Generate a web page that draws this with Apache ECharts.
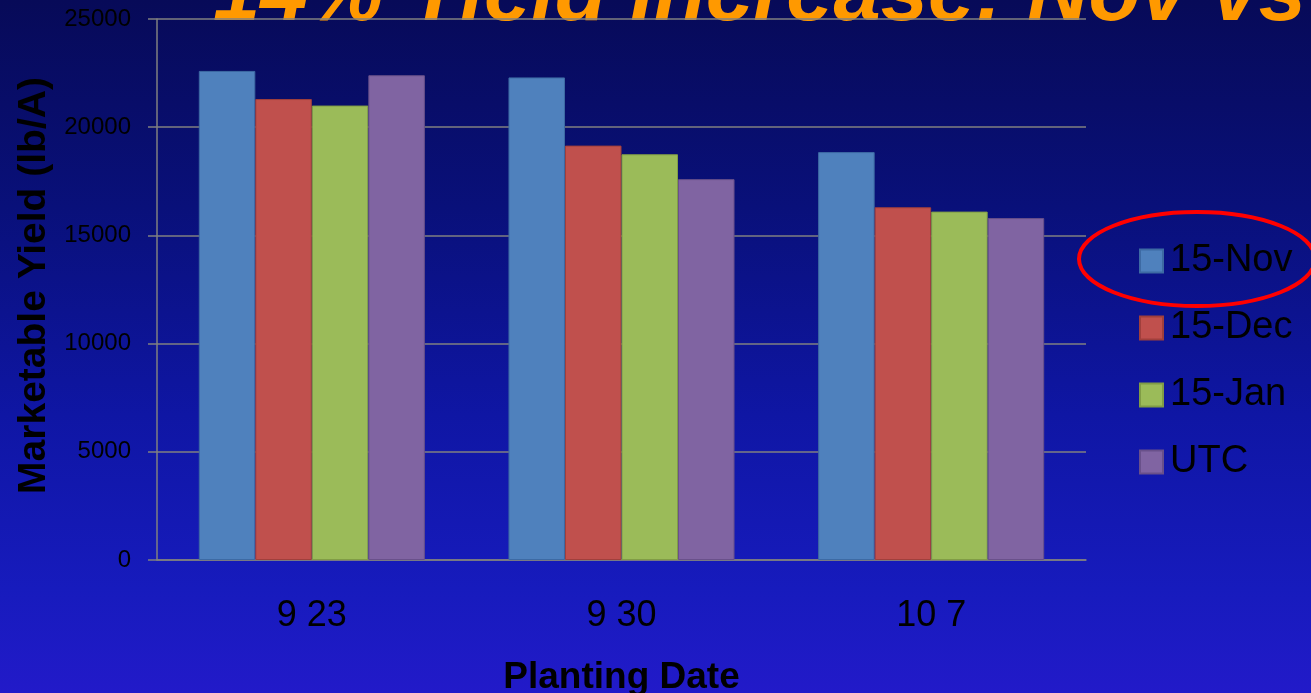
<!DOCTYPE html>
<html>
<head>
<meta charset="utf-8">
<script src="https://cdn.jsdelivr.net/npm/echarts@6/dist/echarts.min.js"></script>
<style>
  html, body { margin: 0; padding: 0; overflow: hidden; }
  #chart { width: 1311px; height: 693px; }
</style>
</head>
<body>
<div id="chart"></div>
<script>
// Planting dates on the category axis
const plantingDates = ['9 23', '9 30', '10 7'];
// Marketable yield (lb/A) per treatment
const nov15 = [22600, 22300, 18850];
const dec15 = [21300, 19150, 16300];
const jan15 = [21000, 18750, 16100];
const utc   = [22400, 17600, 15800];
const yTicks = { min: 0, max: 25000, interval: 5000 };

const seriesDefs = [
  { name: '15-Nov', data: nov15, color: '#4F81BD', border: '#3d6aa3' },
  { name: '15-Dec', data: dec15, color: '#C0504D', border: '#a03f3c' },
  { name: '15-Jan', data: jan15, color: '#9BBB59', border: '#809c46' },
  { name: 'UTC',    data: utc,   color: '#8064A2', border: '#69508a' }
];

const chart = echarts.init(document.getElementById('chart'), null, {
  renderer: 'canvas', width: 1311, height: 693
});

chart.setOption({
  backgroundColor: {
    type: 'linear', x: 0, y: 0, x2: 0, y2: 1,
    colorStops: [
      { offset: 0, color: '#070a58' },
      { offset: 0.3, color: '#09107a' },
      { offset: 0.6, color: '#0f16a4' },
      { offset: 0.85, color: '#171bbd' },
      { offset: 1, color: '#221ac9' }
    ]
  },
  animation: false,
  textStyle: { fontFamily: 'Liberation Sans' },
  grid: {
    left: 157, right: 225, top: 19, bottom: 133,
    containLabel: false, outerBoundsMode: 'none'
  },
  legend: {
    orient: 'vertical',
    left: 1134,
    top: 237,
    itemWidth: 23,
    itemHeight: 23,
    itemGap: 29,
    icon: 'rect',
    textStyle: { color: '#000', fontSize: 38, padding: [0, 0, 0, 2] },
    data: seriesDefs.map(s => s.name)
  },
  xAxis: {
    type: 'category',
    data: plantingDates,
    name: 'Planting Date',
    nameLocation: 'middle',
    nameGap: 99,
    nameTextStyle: { color: '#000', fontSize: 37, fontWeight: 'bold' },
    axisLine: { lineStyle: { color: '#808080', width: 1.5 } },
    axisTick: { show: false },
    axisLabel: { color: '#000', fontSize: 36, margin: 38 }
  },
  yAxis: {
    type: 'value',
    min: yTicks.min,
    max: yTicks.max,
    interval: yTicks.interval,
    name: 'Marketable Yield (lb/A)',
    nameLocation: 'middle',
    nameRotate: 90,
    nameGap: 102,
    nameTextStyle: { color: '#000', fontSize: 39, fontWeight: 'bold', padding: [0, 0, 0, 8] },
    axisLine: { show: true, lineStyle: { color: '#808080', width: 1.5 } },
    axisTick: { show: true, length: 9, lineStyle: { color: '#808080', width: 1.5 } },
    axisLabel: { color: '#000', fontSize: 24, margin: 26, formatter: v => String(v) },
    splitLine: { lineStyle: { color: '#808080', width: 1.5 } }
  },
  series: seriesDefs.map(s => ({
    name: s.name,
    type: 'bar',
    data: s.data,
    barGap: '0%',
    barCategoryGap: '27%',
    itemStyle: { color: s.color, borderColor: s.border, borderWidth: 1 }
  })),
  graphic: [
    {
      type: 'text',
      left: 213,
      top: -46,
      z: -1,
      style: {
        text: '14% Yield Increase: Nov vs',
        fill: '#FF9900',
        font: 'italic bold 85px "Liberation Sans"'
      }
    },
    {
      type: 'ellipse',
      shape: { cx: 1197, cy: 259, rx: 118, ry: 47 },
      style: { fill: 'none', stroke: '#FF0000', lineWidth: 4 },
      z: 10
    }
  ]
});
</script>
</body>
</html>
